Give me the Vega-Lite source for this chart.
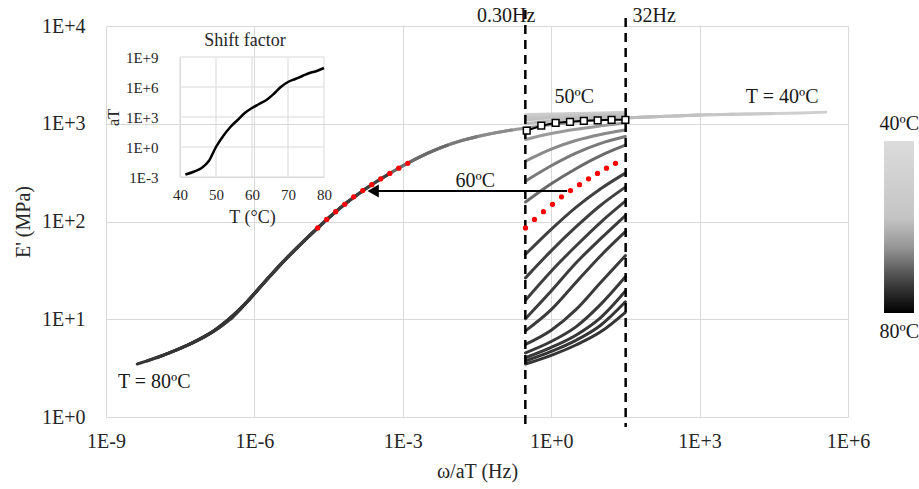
{
  "$schema": "https://vega.github.io/schema/vega-lite/v6.json",
  "width": 742,
  "height": 391,
  "autosize": "none",
  "padding": {"left": 106, "top": 26, "right": 71, "bottom": 72},
  "background": "white",
  "config": {
    "view": {"stroke": null},
    "font": "Liberation Serif",
    "axis": {"labelFont": "Liberation Serif", "titleFont": "Liberation Serif", "labelColor": "#262626", "titleColor": "#262626", "titleFontWeight": "normal", "ticks": false, "domainColor": "#d9d9d9", "gridColor": "#d9d9d9", "labelFlush": false, "labelOverlap": false}
  },
  "datasets": {
    "curves": [
      {"T":40,"set":"raw","freq":0.302,"E":1245},{"T":40,"set":"raw","freq":1,"E":1260},{"T":40,"set":"raw","freq":3.162,"E":1275},{"T":40,"set":"raw","freq":10,"E":1291},{"T":40,"set":"raw","freq":31.62,"E":1315},
      {"T":40,"set":"shifted","freq":3388,"E":1245},{"T":40,"set":"shifted","freq":11220,"E":1260},{"T":40,"set":"shifted","freq":35480,"E":1275},{"T":40,"set":"shifted","freq":112200,"E":1291},{"T":40,"set":"shifted","freq":354800,"E":1315},
      {"T":42,"set":"raw","freq":0.302,"E":1201},{"T":42,"set":"raw","freq":1,"E":1230},{"T":42,"set":"raw","freq":3.162,"E":1245},{"T":42,"set":"raw","freq":10,"E":1259},{"T":42,"set":"raw","freq":31.62,"E":1274},
      {"T":42,"set":"shifted","freq":302,"E":1201},{"T":42,"set":"shifted","freq":1000,"E":1230},{"T":42,"set":"shifted","freq":3162,"E":1245},{"T":42,"set":"shifted","freq":10000,"E":1259},{"T":42,"set":"shifted","freq":31620,"E":1274},
      {"T":44,"set":"raw","freq":0.302,"E":1158},{"T":44,"set":"raw","freq":1,"E":1186},{"T":44,"set":"raw","freq":3.162,"E":1213},{"T":44,"set":"raw","freq":10,"E":1236},{"T":44,"set":"raw","freq":31.62,"E":1250},
      {"T":44,"set":"shifted","freq":47.9,"E":1158},{"T":44,"set":"shifted","freq":158.5,"E":1186},{"T":44,"set":"shifted","freq":501,"E":1213},{"T":44,"set":"shifted","freq":1585,"E":1236},{"T":44,"set":"shifted","freq":5012,"E":1250},
      {"T":46,"set":"raw","freq":0.302,"E":1094},{"T":46,"set":"raw","freq":1,"E":1148},{"T":46,"set":"raw","freq":3.162,"E":1175},{"T":46,"set":"raw","freq":10,"E":1202},{"T":46,"set":"raw","freq":31.62,"E":1230},
      {"T":46,"set":"shifted","freq":9.55,"E":1094},{"T":46,"set":"shifted","freq":31.6,"E":1148},{"T":46,"set":"shifted","freq":100,"E":1175},{"T":46,"set":"shifted","freq":316,"E":1202},{"T":46,"set":"shifted","freq":1000,"E":1230},
      {"T":48,"set":"raw","freq":0.302,"E":1002},{"T":48,"set":"raw","freq":1,"E":1067},{"T":48,"set":"raw","freq":3.162,"E":1117},{"T":48,"set":"raw","freq":10,"E":1159},{"T":48,"set":"raw","freq":31.62,"E":1186},
      {"T":48,"set":"shifted","freq":1.514,"E":1002},{"T":48,"set":"shifted","freq":5.01,"E":1067},{"T":48,"set":"shifted","freq":15.85,"E":1117},{"T":48,"set":"shifted","freq":50.1,"E":1159},{"T":48,"set":"shifted","freq":158.5,"E":1186},
      {"T":52,"set":"raw","freq":0.302,"E":690},{"T":52,"set":"raw","freq":1,"E":794},{"T":52,"set":"raw","freq":3.162,"E":879},{"T":52,"set":"raw","freq":10,"E":951},{"T":52,"set":"raw","freq":31.62,"E":1019},
      {"T":52,"set":"shifted","freq":0.01905,"E":690},{"T":52,"set":"shifted","freq":0.0631,"E":794},{"T":52,"set":"shifted","freq":0.1995,"E":879},{"T":52,"set":"shifted","freq":0.631,"E":951},{"T":52,"set":"shifted","freq":1.995,"E":1019},
      {"T":54,"set":"raw","freq":0.302,"E":414},{"T":54,"set":"raw","freq":1,"E":550},{"T":54,"set":"raw","freq":3.162,"E":673},{"T":54,"set":"raw","freq":10,"E":776},{"T":54,"set":"raw","freq":31.62,"E":863},
      {"T":54,"set":"shifted","freq":0.001514,"E":414},{"T":54,"set":"shifted","freq":0.00501,"E":550},{"T":54,"set":"shifted","freq":0.01585,"E":673},{"T":54,"set":"shifted","freq":0.0501,"E":776},{"T":54,"set":"shifted","freq":0.1585,"E":863},
      {"T":56,"set":"raw","freq":0.302,"E":259},{"T":56,"set":"raw","freq":1,"E":372},{"T":56,"set":"raw","freq":3.162,"E":501},{"T":56,"set":"raw","freq":10,"E":631},{"T":56,"set":"raw","freq":31.62,"E":741},
      {"T":56,"set":"shifted","freq":0.000302,"E":259},{"T":56,"set":"shifted","freq":0.001,"E":372},{"T":56,"set":"shifted","freq":0.003162,"E":501},{"T":56,"set":"shifted","freq":0.01,"E":631},{"T":56,"set":"shifted","freq":0.03162,"E":741},
      {"T":58,"set":"raw","freq":0.302,"E":158},{"T":58,"set":"raw","freq":1,"E":243},{"T":58,"set":"raw","freq":3.162,"E":347},{"T":58,"set":"raw","freq":10,"E":472},{"T":58,"set":"raw","freq":31.62,"E":603},
      {"T":58,"set":"shifted","freq":7.59e-5,"E":158},{"T":58,"set":"shifted","freq":2.512e-4,"E":243},{"T":58,"set":"shifted","freq":7.94e-4,"E":347},{"T":58,"set":"shifted","freq":2.512e-3,"E":472},{"T":58,"set":"shifted","freq":7.94e-3,"E":603},
      {"T":62,"set":"raw","freq":0.302,"E":46.2},{"T":62,"set":"raw","freq":1,"E":83.2},{"T":62,"set":"raw","freq":3.162,"E":139.6},{"T":62,"set":"raw","freq":10,"E":216.3},{"T":62,"set":"raw","freq":31.62,"E":312.6},
      {"T":62,"set":"shifted","freq":5.37e-6,"E":46.2},{"T":62,"set":"shifted","freq":1.778e-5,"E":83.2},{"T":62,"set":"shifted","freq":5.62e-5,"E":139.6},{"T":62,"set":"shifted","freq":1.778e-4,"E":216.3},{"T":62,"set":"shifted","freq":5.62e-4,"E":312.6},
      {"T":64,"set":"raw","freq":0.302,"E":26.5},{"T":64,"set":"raw","freq":1,"E":50.1},{"T":64,"set":"raw","freq":3.162,"E":87.9},{"T":64,"set":"raw","freq":10,"E":146.6},{"T":64,"set":"raw","freq":31.62,"E":224.9},
      {"T":64,"set":"shifted","freq":1.905e-6,"E":26.5},{"T":64,"set":"shifted","freq":6.31e-6,"E":50.1},{"T":64,"set":"shifted","freq":1.995e-5,"E":87.9},{"T":64,"set":"shifted","freq":6.31e-5,"E":146.6},{"T":64,"set":"shifted","freq":1.995e-4,"E":224.9},
      {"T":66,"set":"raw","freq":0.302,"E":15.67},{"T":66,"set":"raw","freq":1,"E":31.05},{"T":66,"set":"raw","freq":3.162,"E":56.2},{"T":66,"set":"raw","freq":10,"E":98.2},{"T":66,"set":"raw","freq":31.62,"E":161.4},
      {"T":66,"set":"shifted","freq":7.59e-7,"E":15.67},{"T":66,"set":"shifted","freq":2.512e-6,"E":31.05},{"T":66,"set":"shifted","freq":7.94e-6,"E":56.2},{"T":66,"set":"shifted","freq":2.512e-5,"E":98.2},{"T":66,"set":"shifted","freq":7.94e-5,"E":161.4},
      {"T":68,"set":"raw","freq":0.302,"E":10.14},{"T":68,"set":"raw","freq":1,"E":19.45},{"T":68,"set":"raw","freq":3.162,"E":37.6},{"T":68,"set":"raw","freq":10,"E":66.7},{"T":68,"set":"raw","freq":31.62,"E":115.1},
      {"T":68,"set":"shifted","freq":3.39e-7,"E":10.14},{"T":68,"set":"shifted","freq":1.122e-6,"E":19.45},{"T":68,"set":"shifted","freq":3.548e-6,"E":37.6},{"T":68,"set":"shifted","freq":1.122e-5,"E":66.7},{"T":68,"set":"shifted","freq":3.548e-5,"E":115.1},
      {"T":70,"set":"raw","freq":0.302,"E":7.6},{"T":70,"set":"raw","freq":1,"E":12.53},{"T":70,"set":"raw","freq":3.162,"E":23.77},{"T":70,"set":"raw","freq":10,"E":44.7},{"T":70,"set":"raw","freq":31.62,"E":78.7},
      {"T":70,"set":"shifted","freq":1.514e-7,"E":7.6},{"T":70,"set":"shifted","freq":5.01e-7,"E":12.53},{"T":70,"set":"shifted","freq":1.585e-6,"E":23.77},{"T":70,"set":"shifted","freq":5.01e-6,"E":44.7},{"T":70,"set":"shifted","freq":1.585e-5,"E":78.7},
      {"T":72,"set":"raw","freq":0.302,"E":5.53},{"T":72,"set":"raw","freq":1,"E":7.73},{"T":72,"set":"raw","freq":3.162,"E":12.53},{"T":72,"set":"raw","freq":10,"E":23.77},{"T":72,"set":"raw","freq":31.62,"E":44.7},
      {"T":72,"set":"shifted","freq":4.79e-8,"E":5.53},{"T":72,"set":"shifted","freq":1.585e-7,"E":7.73},{"T":72,"set":"shifted","freq":5.01e-7,"E":12.53},{"T":72,"set":"shifted","freq":1.585e-6,"E":23.77},{"T":72,"set":"shifted","freq":5.01e-6,"E":44.7},
      {"T":74,"set":"raw","freq":0.302,"E":4.53},{"T":74,"set":"raw","freq":1,"E":5.92},{"T":74,"set":"raw","freq":3.162,"E":8.36},{"T":74,"set":"raw","freq":10,"E":14.19},{"T":74,"set":"raw","freq":31.62,"E":27.2},
      {"T":74,"set":"shifted","freq":1.905e-8,"E":4.53},{"T":74,"set":"shifted","freq":6.31e-8,"E":5.92},{"T":74,"set":"shifted","freq":1.995e-7,"E":8.36},{"T":74,"set":"shifted","freq":6.31e-7,"E":14.19},{"T":74,"set":"shifted","freq":1.995e-6,"E":27.2},
      {"T":76,"set":"raw","freq":0.302,"E":4.04},{"T":76,"set":"raw","freq":1,"E":5.15},{"T":76,"set":"raw","freq":3.162,"E":6.87},{"T":76,"set":"raw","freq":10,"E":10.4},{"T":76,"set":"raw","freq":31.62,"E":19.45},
      {"T":76,"set":"shifted","freq":1.072e-8,"E":4.04},{"T":76,"set":"shifted","freq":3.548e-8,"E":5.15},{"T":76,"set":"shifted","freq":1.122e-7,"E":6.87},{"T":76,"set":"shifted","freq":3.548e-7,"E":10.4},{"T":76,"set":"shifted","freq":1.122e-6,"E":19.45},
      {"T":78,"set":"raw","freq":0.302,"E":3.74},{"T":78,"set":"raw","freq":1,"E":4.68},{"T":78,"set":"raw","freq":3.162,"E":6.08},{"T":78,"set":"raw","freq":10,"E":8.69},{"T":78,"set":"raw","freq":31.62,"E":15.1},
      {"T":78,"set":"shifted","freq":6.76e-9,"E":3.74},{"T":78,"set":"shifted","freq":2.239e-8,"E":4.68},{"T":78,"set":"shifted","freq":7.08e-8,"E":6.08},{"T":78,"set":"shifted","freq":2.239e-7,"E":8.69},{"T":78,"set":"shifted","freq":7.08e-7,"E":15.1},
      {"T":80,"set":"raw","freq":0.302,"E":3.48},{"T":80,"set":"raw","freq":1,"E":4.27},{"T":80,"set":"raw","freq":3.162,"E":5.45},{"T":80,"set":"raw","freq":10,"E":7.43},{"T":80,"set":"raw","freq":31.62,"E":11.78},
      {"T":80,"set":"shifted","freq":4.27e-9,"E":3.48},{"T":80,"set":"shifted","freq":1.413e-8,"E":4.27},{"T":80,"set":"shifted","freq":4.47e-8,"E":5.45},{"T":80,"set":"shifted","freq":1.413e-7,"E":7.43},{"T":80,"set":"shifted","freq":4.47e-7,"E":11.78}
    ],
    "squares": [
      {"freq":0.32,"E":851},{"freq":0.63,"E":955},{"freq":1.23,"E":1023},{"freq":2.4,"E":1047},{"freq":4.57,"E":1072},{"freq":8.7,"E":1084},{"freq":16.6,"E":1096},{"freq":31.6,"E":1096}
    ],
    "reddots": [
      {"set":"raw","freq":0.302,"E":85.9},{"set":"raw","freq":0.459,"E":105},{"set":"raw","freq":0.698,"E":126},{"set":"raw","freq":1.062,"E":150},{"set":"raw","freq":1.614,"E":179},{"set":"raw","freq":2.455,"E":207},{"set":"raw","freq":3.733,"E":238},{"set":"raw","freq":5.675,"E":273},{"set":"raw","freq":8.63,"E":310},{"set":"raw","freq":13.12,"E":351},{"set":"raw","freq":19.95,"E":394},
      {"set":"shifted","freq":1.905e-5,"E":85.9},{"set":"shifted","freq":2.896e-5,"E":105},{"set":"shifted","freq":4.4e-5,"E":126},{"set":"shifted","freq":6.7e-5,"E":150},{"set":"shifted","freq":1.018e-4,"E":179},{"set":"shifted","freq":1.549e-4,"E":207},{"set":"shifted","freq":2.355e-4,"E":238},{"set":"shifted","freq":3.58e-4,"E":273},{"set":"shifted","freq":5.45e-4,"E":310},{"set":"shifted","freq":8.28e-4,"E":351},{"set":"shifted","freq":1.259e-3,"E":394}
    ],
    "dashed": [
      {"freq":0.3,"E":14580,"E2":0.736},
      {"freq":32,"E":12080,"E2":0.79}
    ],
    "arrow": [{"freq":2.4e-4,"freq2":2.1,"E":205}],
    "arrowhead": [{"freq":2.52e-4,"E":205}],
    "colorbar": [{"freq":5.35e6,"freq2":2.16e7,"E":666,"E2":11.6}],
    "labels": [
      {"text":"0.30Hz","freq":0.123,"E":12650},
      {"text":"32Hz","freq":120.8,"E":12650},
      {"text":"50ºC","freq":2.92,"E":1878},
      {"text":"T = 40ºC","freq":46770,"E":1878},
      {"text":"T = 80ºC","freq":9.44e-9,"E":2.28},
      {"text":"60ºC","freq":0.0291,"E":259},
      {"text":"40ºC","freq":1.084e7,"E":994},
      {"text":"80ºC","freq":1.084e7,"E":7.41}
    ],
    "shift": [
      {"T":41.5,"aT":1.78e-3},{"T":44,"aT":3.55e-3},{"T":46,"aT":7.94e-3},{"T":48,"aT":3.98e-2},{"T":50,"aT":1},{"T":52,"aT":12.6},{"T":54,"aT":100},{"T":56,"aT":501},{"T":58,"aT":2512},{"T":60,"aT":7943},{"T":62,"aT":19950},{"T":64,"aT":50100},{"T":66,"aT":200000},{"T":68,"aT":1000000},{"T":70,"aT":3160000},{"T":72,"aT":6310000},{"T":74,"aT":12600000},{"T":76,"aT":25100000},{"T":78,"aT":39800000},{"T":80,"aT":79400000}
    ],
    "insetV": [
      {"T":40,"aT":0.001,"aT2":1e9},{"T":50,"aT":0.001,"aT2":1e9},{"T":60,"aT":0.001,"aT2":1e9},{"T":70,"aT":0.001,"aT2":1e9},{"T":80,"aT":0.001,"aT2":1e9}
    ],
    "insetH": [
      {"T":40,"T2":80,"aT":0.001},{"T":40,"T2":80,"aT":1},{"T":40,"T2":80,"aT":1000},{"T":40,"T2":80,"aT":1e6},{"T":40,"T2":80,"aT":1e9}
    ],
    "insetTitle": [{"text":"Shift factor","T":58.06,"aT":3.98e10}]
  },
  "layer": [
    {
      "encoding": {
        "x": {"field": "freq", "type": "quantitative", "scale": {"type": "log", "domain": [1e-9, 1e6], "nice": false},
          "axis": {"values": [1e-9, 1e-6, 0.001, 1, 1000, 1e6], "labelExpr": "datum.value >= 1 ? '1E+' + round(log(datum.value) / LN10) : '1E' + round(log(datum.value) / LN10)", "title": "ω/aT (Hz)", "grid": true, "labelFontSize": 20, "labelPadding": 14, "titleFontSize": 20, "titlePadding": 10}},
        "y": {"field": "E", "type": "quantitative", "scale": {"type": "log", "domain": [1, 10000], "nice": false},
          "axis": {"values": [1, 10, 100, 1000, 10000], "labelExpr": "datum.value >= 1 ? '1E+' + round(log(datum.value) / LN10) : '1E' + round(log(datum.value) / LN10)", "title": "E'   (MPa)", "grid": true, "labelFontSize": 20, "labelPadding": 21, "titleFontSize": 20, "titlePadding": 8}}
      },
      "layer": [
        {"data": {"name": "curves"}, "mark": {"type": "line", "strokeWidth": 3, "interpolate": "monotone", "strokeCap": "round"},
          "encoding": {"color": {"field": "T", "type": "quantitative", "scale": {"domain": [40, 48, 52, 58, 62, 80], "range": ["#cfcfcf", "#bdbdbd", "#9a9a9a", "#6a6a6a", "#404040", "#353535"]}, "legend": null},
            "detail": [{"field": "T", "type": "nominal"}, {"field": "set", "type": "nominal"}]}},
        {"data": {"name": "dashed"}, "mark": {"type": "rule", "strokeDash": [9, 6], "strokeWidth": 2.5, "color": "black"}, "encoding": {"y2": {"field": "E2"}}},
        {"data": {"name": "squares"}, "mark": {"type": "line", "color": "black", "strokeWidth": 2}},
        {"data": {"name": "squares"}, "mark": {"type": "point", "shape": "square", "filled": true, "fill": "white", "stroke": "black", "strokeWidth": 1.5, "size": 45, "opacity": 1}},
        {"data": {"name": "reddots"}, "mark": {"type": "point", "shape": "circle", "filled": true, "color": "#ff0000", "size": 28, "opacity": 1}},
        {"data": {"name": "arrow"}, "mark": {"type": "rule", "color": "black", "strokeWidth": 2}, "encoding": {"x2": {"field": "freq2"}}},
        {"data": {"name": "arrowhead"}, "mark": {"type": "point", "shape": "triangle-left", "filled": true, "color": "black", "size": 170, "opacity": 1}},
        {"data": {"name": "colorbar"}, "mark": {"type": "rect", "fill": {"gradient": "linear", "x1": 0, "y1": 0, "x2": 0, "y2": 1, "stops": [{"offset": 0, "color": "#dcdcdc"}, {"offset": 0.45, "color": "#c4c4c4"}, {"offset": 0.62, "color": "#959595"}, {"offset": 0.8, "color": "#4a4a4a"}, {"offset": 1, "color": "#000000"}]}}, "encoding": {"x2": {"field": "freq2"}, "y2": {"field": "E2"}}},
        {"data": {"name": "labels"}, "mark": {"type": "text", "fontSize": 20, "color": "#1a1a1a", "align": "center", "baseline": "middle"}, "encoding": {"text": {"field": "text"}}}
      ]
    },
    {
      "encoding": {
        "x": {"field": "T", "type": "quantitative", "scale": {"domain": [40, 80], "range": [74, 218], "nice": false, "zero": false},
          "axis": {"orient": "bottom", "offset": -240, "values": [40, 50, 60, 70, 80], "title": "T (°C)", "grid": false, "labelFontSize": 15, "labelPadding": 10, "titleFontSize": 18, "titlePadding": 6}},
        "y": {"field": "aT", "type": "quantitative", "scale": {"type": "log", "domain": [0.001, 1e9], "range": [151, 31], "nice": false},
          "axis": {"orient": "left", "offset": -74, "values": [0.001, 1, 1000, 1e6, 1e9], "labelExpr": "datum.value >= 1 ? '1E+' + round(log(datum.value) / LN10) : '1E' + round(log(datum.value) / LN10)", "title": "aT", "grid": false, "labelFontSize": 15, "labelPadding": 22, "titleFontSize": 16, "titlePadding": 4}}
      },
      "layer": [
        {"data": {"name": "insetV"}, "mark": {"type": "rule", "color": "#d9d9d9", "strokeWidth": 1}, "encoding": {"y2": {"field": "aT2"}}},
        {"data": {"name": "insetH"}, "mark": {"type": "rule", "color": "#d9d9d9", "strokeWidth": 1}, "encoding": {"x2": {"field": "T2"}}},
        {"data": {"name": "shift"}, "mark": {"type": "line", "color": "black", "strokeWidth": 2.5, "interpolate": "monotone"}},
        {"data": {"name": "insetTitle"}, "mark": {"type": "text", "fontSize": 18, "color": "#262626", "align": "center", "baseline": "middle"}, "encoding": {"text": {"field": "text"}}}
      ]
    }
  ],
  "resolve": {"scale": {"x": "independent", "y": "independent"}, "axis": {"x": "independent", "y": "independent"}}
}
